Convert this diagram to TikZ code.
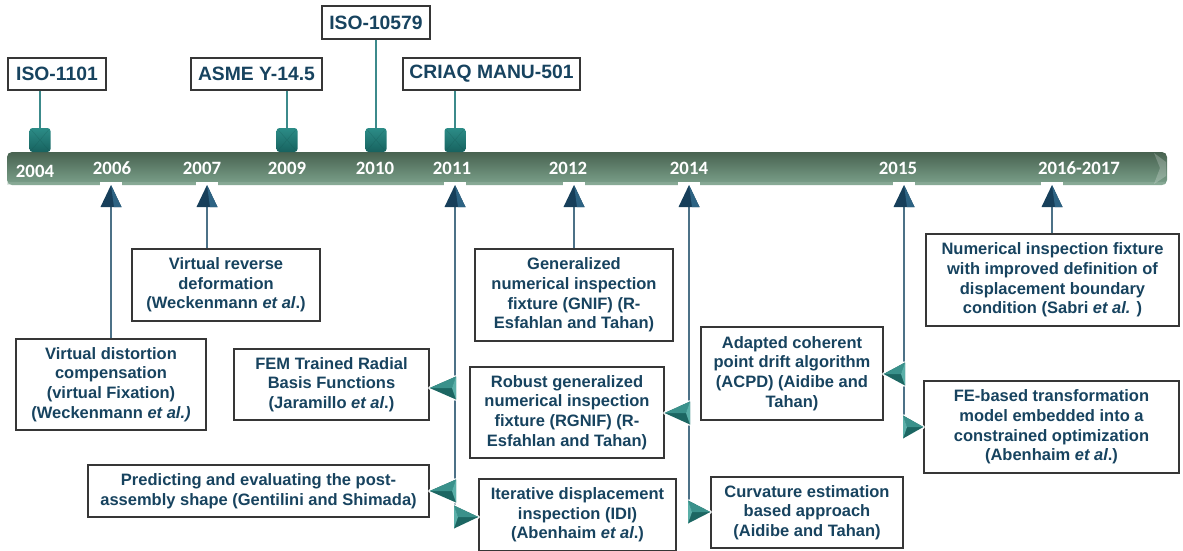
\documentclass[tikz,border=0pt]{standalone}
\usepackage{fontspec}
\setmainfont{Liberation Sans}
\newfontfamily\yearfont{Carlito}
\usetikzlibrary{calc}

\definecolor{txtblue}{HTML}{17435F}
\definecolor{navy}{HTML}{173F5A}
\definecolor{navylight}{HTML}{2D6383}
\definecolor{tealA}{HTML}{3A918B}
\definecolor{tealB}{HTML}{1C6662}
\definecolor{tealC}{HTML}{5AAFA8}
\definecolor{sqTop}{HTML}{2C8C87}
\definecolor{sqBot}{HTML}{17625F}
\definecolor{sqLine}{HTML}{13524F}
\definecolor{barTop}{HTML}{486250}
\definecolor{barBot}{HTML}{7CA28C}
\definecolor{stemTeal}{HTML}{3C8A8B}
\definecolor{stemSlate}{HTML}{4C7187}
\definecolor{boxline}{HTML}{363636}

% navy arrowhead below the bar; #1 = centre of its base
\newcommand\headup[1]{%
  \fill[white] ($(#1)+(-11,-25.5)$) rectangle ($(#1)+(11,-21)$);
  \fill[navy] ($(#1)+(-10.5,0)$) -- ($(#1)+(0,-22)$) -- ($(#1)+(10.5,0)$) -- cycle;
  \fill[navylight] ($(#1)+(0,-22)$) -- ($(#1)+(10.5,0)$) -- ($(#1)+(3,0)$) -- cycle;
}
% teal side arrowheads; #1 = point on the stem, #2 = tip on the box edge
\newcommand\headleft[2]{%
  \draw[white, line width=3pt, line join=round] ($(#1)+(1,-11.5)$) -- (#2) -- ($(#1)+(1,11.5)$);
  \fill[tealB] (#2) -- ($(#1)+(1,-11.5)$) -- ($(#1)+(1,11.5)$) -- cycle;
  \fill[tealA] (#2) -- ($(#1)+(1,-11.5)$) -- ($(#1)+(-3,0)$) -- cycle;
  \fill[tealC] ($(#1)+(1,-11.5)$) -- ($(#1)+(1,11.5)$) -- ($(#1)+(-3,0)$) -- cycle;
}
\newcommand\headright[2]{%
  \draw[white, line width=3pt, line join=round] ($(#1)+(-1,-11.5)$) -- (#2) -- ($(#1)+(-1,11.5)$);
  \fill[tealB] (#2) -- ($(#1)+(-1,-11.5)$) -- ($(#1)+(-1,11.5)$) -- cycle;
  \fill[tealA] (#2) -- ($(#1)+(-1,-11.5)$) -- ($(#1)+(3,0)$) -- cycle;
  \fill[tealC] ($(#1)+(-1,-11.5)$) -- ($(#1)+(-1,11.5)$) -- ($(#1)+(3,0)$) -- cycle;
}
% teal marker square on top of the bar; #1 = its centre
\newcommand\stdmark[1]{%
  \shade[top color=sqTop, bottom color=sqBot, rounded corners=3pt]
    ($(#1)+(-10.5,-12)$) rectangle ($(#1)+(10.5,12)$);
  \draw[sqLine, line width=0.4pt, opacity=0.3]
    ($(#1)+(-9,-10.5)$) -- ($(#1)+(9,10.5)$) ($(#1)+(9,-10.5)$) -- ($(#1)+(-9,10.5)$);
}

\begin{document}
\begin{tikzpicture}[x=1pt,y=-1pt,
  event/.style={draw=boxline, line width=1.3pt, fill=white, align=center,
    inner sep=0pt, text=txtblue, font=\bfseries\fontsize{16.5}{19.6}\selectfont},
  standard/.style={event, font=\bfseries\fontsize{19.3}{22}\selectfont},
  year/.style={text=white, inner sep=0pt, font=\yearfont\bfseries\fontsize{18.8}{22}\selectfont},
  stem/.style={draw=stemSlate, line width=1.3pt},
  topstem/.style={draw=stemTeal, line width=1.3pt}]
\useasboundingbox (0,0) rectangle (1183,550);

% ---- timeline bar ----
\shade[top color=barTop, bottom color=barBot, rounded corners=5pt] (7,152) rectangle (1167,185);
\fill[barBot!70!white, opacity=0.35] (7,182) rectangle (1165,185);
\fill[white, opacity=0.22] (1154,153) -- (1166,162) -- (1166,176) -- (1154,184) -- (1160,168) -- cycle;

% ---- years ----
\node[year] (y2004) at (35,171) {2004};
\node[year] (y2006) at (112,168) {2006};
\node[year] (y2007) at (202,168) {2007};
\node[year] (y2009) at (287,168) {2009};
\node[year] (y2010) at (375,168) {2010};
\node[year] (y2011) at (452,168) {2011};
\node[year] (y2012) at (568,168) {2012};
\node[year] (y2014) at (689,168) {2014};
\node[year] (y2015) at (898,168) {2015};
\node[year] (y2016) at (1079,168) {2016-2017};

% ---- standards above the bar ----
\node[standard, minimum width=98pt, minimum height=32pt] (iso1101) at (57,74) {ISO-1101};
\node[standard, minimum width=131pt, minimum height=32pt] (asme) at (256.5,74) {ASME Y-14.5};
\node[standard, minimum width=108pt, minimum height=33pt] (iso10579) at (376,22.5) {ISO-10579};
\node[standard, minimum width=177pt, minimum height=32pt] (criaq) at (491.5,74) {CRIAQ MANU-501};

\coordinate (m2004) at (40,140);
\coordinate (m2009) at (287,140);
\coordinate (m2010) at (376,140);
\coordinate (m2011) at (455,140);
\draw[topstem] (iso1101.south -| m2004) -- (m2004);
\draw[topstem] (asme.south -| m2009) -- (m2009);
\draw[topstem] (iso10579.south -| m2010) -- (m2010);
\draw[topstem] (criaq.south -| m2011) -- (m2011);
\stdmark{m2004}
\stdmark{m2009}
\stdmark{m2010}
\stdmark{m2011}

% ---- stems below the bar ----
\coordinate (b2006) at (111,207);
\coordinate (b2007) at (207,207);
\coordinate (b2011) at (455,207);
\coordinate (b2012) at (574,207);
\coordinate (b2014) at (689,207);
\coordinate (b2015) at (904,207);
\coordinate (b2016) at (1052,207);
\coordinate (e2011) at (455,528);
\coordinate (e2014) at (689,523);
\coordinate (e2015) at (904,437);

\draw[stem] (b2011) -- (e2011);
\draw[stem] (b2014) -- (e2014);
\draw[stem] (b2015) -- (e2015);

% ---- contributions ----
\node[event, minimum width=190pt, minimum height=91pt] (vdc) at (111,384.5)
  {Virtual distortion\\compensation\\(virtual Fixation)\\(Weckenmann \textit{et al.)}};
\node[event, minimum width=188pt, minimum height=72pt] (vrd) at (226,285)
  {Virtual reverse\\deformation\\(Weckenmann \textit{et al}.)};
\node[event, minimum width=195pt, minimum height=71pt] (fem) at (331.5,384.5)
  {FEM Trained Radial\\Basis Functions\\(Jaramillo \textit{et al}.)};
\node[event, minimum width=341pt, minimum height=52pt] (pred) at (258.5,491)
  {Predicting and evaluating the post-\\assembly shape (Gentilini and Shimada)};
\node[event, minimum width=198pt, minimum height=92pt] (gnif) at (574,295)
  {Generalized\\numerical inspection\\fixture (GNIF) (R-\\Esfahlan and Tahan)};
\node[event, minimum width=194pt, minimum height=91pt] (rgnif) at (567,412.5)
  {Robust generalized\\numerical inspection\\fixture (RGNIF) (R-\\Esfahlan and Tahan)};
\node[event, minimum width=197pt, minimum height=72pt] (idi) at (577.5,515)
  {Iterative displacement\\inspection (IDI)\\(Abenhaim \textit{et al}.)};
\node[event, minimum width=182pt, minimum height=93pt] (acpd) at (792,373.5)
  {Adapted coherent\\point drift algorithm\\(ACPD) (Aidibe and\\Tahan)};
\node[event, minimum width=192pt, minimum height=71pt] (curv) at (807,512.5)
  {Curvature estimation\\based approach\\(Aidibe and Tahan)};
\node[event, minimum width=255pt, minimum height=92pt] (fe) at (1051.5,427)
  {FE-based transformation\\model embedded into a\\constrained optimization\\(Abenhaim \textit{et al}.)};
\node[event, minimum width=253pt, minimum height=92pt] (nif) at (1052.5,280)
  {Numerical inspection fixture\\with improved definition of\\displacement boundary\\condition (Sabri \textit{et al.} )};

% ---- connectors from boxes to the bar ----
\draw[stem] (vdc.north -| b2006) -- (b2006);
\draw[stem] (vrd.north -| b2007) -- (b2007);
\draw[stem] (gnif.north -| b2012) -- (b2012);
\draw[stem] (nif.north -| b2016) -- (b2016);

\headup{b2006}
\headup{b2007}
\headup{b2011}
\headup{b2012}
\headup{b2014}
\headup{b2015}
\headup{b2016}

% ---- side arrowheads on the shared stems ----
\coordinate (s1) at (455,388);
\coordinate (s2) at (455,491);
\coordinate (s3) at (455,517);
\coordinate (s4) at (689,413);
\coordinate (s5) at (689,512);
\coordinate (s6) at (904,374);
\coordinate (s7) at (904,427);
\headleft{s1}{fem.east |- s1}
\headleft{s2}{pred.east |- s2}
\headright{s3}{idi.west |- s3}
\headleft{s4}{rgnif.east |- s4}
\headright{s5}{curv.west |- s5}
\headleft{s6}{acpd.east |- s6}
\headright{s7}{fe.west |- s7}
\end{tikzpicture}
\end{document}
